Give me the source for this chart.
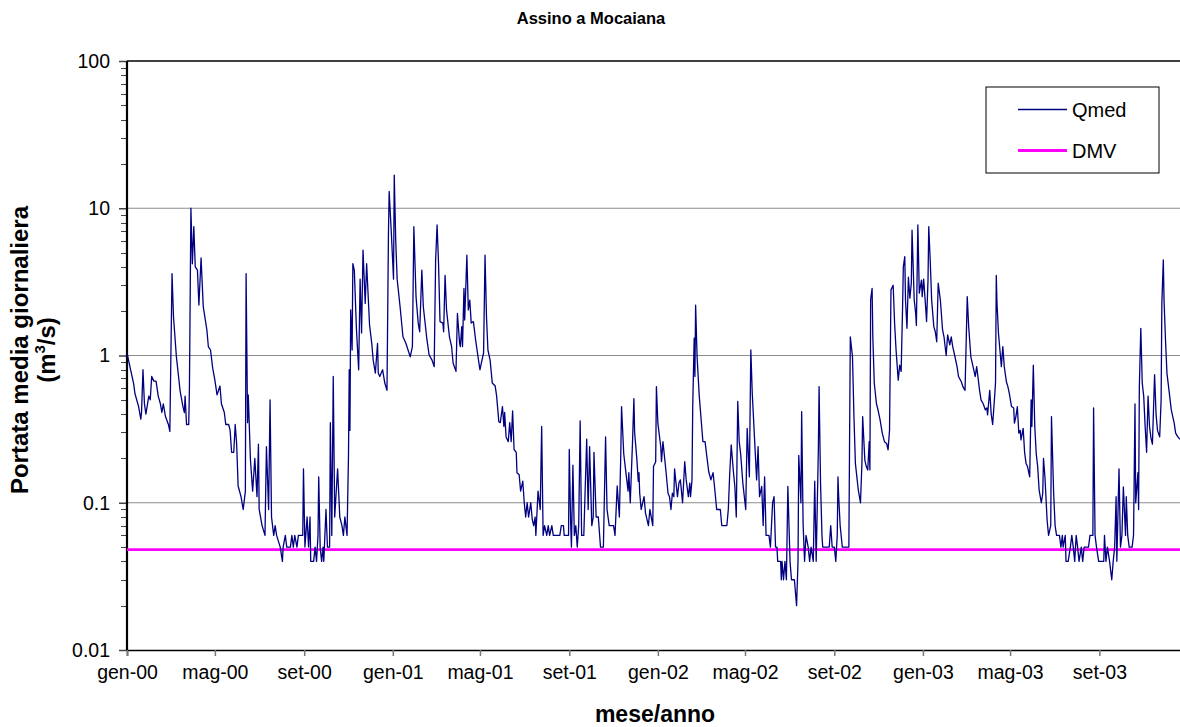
<!DOCTYPE html>
<html>
<head>
<meta charset="utf-8">
<script src="https://cdn.jsdelivr.net/npm/d3@7"></script>
<style>
  body { margin: 0; background: #fff; }
  text { font-family: Arial, "Liberation Sans", sans-serif; fill: #000; }
</style>
</head>
<body>
<div id="chart"></div>
<script>
// Daily mean discharge (m3/s): day offset from 1 Jan 2000 + value
const qDay = [
  0, 4, 9, 11, 16, 19, 20, 22, 24, 26, 30, 32, 34, 37, 40, 43, 46, 48, 50, 53,
  57, 59, 62, 64, 68, 71, 73, 77, 79, 80, 82, 85, 86, 88, 90, 92, 94, 97, 99, 102,
  105, 110, 112, 115, 118, 121, 124, 128, 130, 134, 136, 140, 142, 144, 147, 149, 151, 153, 157, 160,
  163, 164, 166, 167, 170, 173, 176, 179, 181, 182, 186, 190, 192, 195, 197, 199, 202, 204, 206, 211,
  214, 215, 218, 220, 225, 227, 229, 231, 234, 236, 242, 243, 245, 248, 250, 252, 253, 257, 259, 261,
  263, 264, 266, 268, 270, 271, 274, 276, 279, 280, 282, 284, 286, 290, 293, 296, 298, 300, 303, 305,
  306, 307, 308, 310, 311, 313, 316, 319, 321, 323, 325, 328, 330, 334, 337, 339, 342, 345, 346,
  348, 352, 355, 358, 360, 361, 364, 367, 368, 370, 372, 376, 380, 384, 387, 390, 393, 395, 398, 401,
  403, 406, 408, 413, 416, 420, 423, 425, 427, 429, 431, 435, 436, 438, 440, 444, 447, 449, 453, 455,
  458, 459, 461, 462, 464, 465, 468, 470, 472, 474, 477, 480, 484, 486, 488, 491, 493, 495, 497, 500,
  503, 507, 509, 512, 514, 517, 519, 520, 522, 525, 527, 529, 531, 533, 536, 537, 540, 542, 545, 547,
  549, 551, 553, 556, 558, 560, 562, 563, 566, 569, 571, 573, 575, 578, 580, 582, 585, 587, 596, 598,
  601, 602, 608, 609, 611, 612, 614, 616, 618, 620, 622, 624, 626, 629, 633, 635, 637, 640, 642, 643,
  646, 649, 652, 656, 659, 661, 664, 670, 672, 675, 678, 680, 681, 684, 687, 690, 691, 693, 696, 698,
  699, 702, 704, 705,
  706, 708, 712, 714, 718, 720, 724, 725, 728, 729, 731, 735, 736, 738, 742, 745, 747, 749, 751, 753,
  754, 756, 758, 760, 762, 765, 768, 770, 773, 775, 776, 778, 779, 781, 782, 783, 785, 788, 791, 793,
  796, 798, 801, 804, 807, 809, 812, 817, 819, 826, 828, 830, 832, 835, 837, 839, 841, 843, 845, 846,
  848, 852, 854, 857, 859, 861, 864, 867, 869, 871, 874, 876, 878, 880, 884, 886, 889, 891, 893, 895,
  896, 900, 901, 902, 904, 906, 908, 910, 913, 915, 919, 922, 924, 925, 928, 929, 931, 933, 935, 938,
  940, 942, 945, 947, 949, 952, 953, 955, 957, 958, 967, 969, 971, 974, 976, 978, 979, 980, 982, 985,
  994, 995, 996, 999, 1001, 1003, 1007, 1010, 1012, 1013, 1016, 1018, 1020, 1022, 1023, 1024, 1026, 1027, 1029, 1032,
  1034, 1037, 1040, 1043, 1046, 1048, 1050, 1052, 1055, 1057, 1059, 1062,
  1064, 1066, 1068, 1069, 1071, 1072, 1074, 1076, 1078, 1080, 1081, 1084, 1086, 1087, 1089, 1091, 1094, 1095, 1097, 1100,
  1101, 1103, 1104, 1106, 1108, 1111, 1113, 1115, 1117, 1120, 1123, 1125, 1128, 1130, 1133, 1135, 1137, 1139, 1143, 1145,
  1149, 1151, 1154, 1157, 1159, 1162, 1166, 1168, 1170, 1172, 1174, 1176, 1179, 1182, 1184, 1185, 1188, 1190, 1192, 1195,
  1196, 1197, 1198, 1200, 1202, 1204, 1206, 1208, 1211, 1213, 1215, 1218, 1221, 1222, 1224, 1226, 1228, 1230, 1231, 1234,
  1236, 1238, 1240, 1243, 1245, 1246, 1248, 1250, 1252, 1254, 1256, 1259, 1261, 1262, 1264, 1267, 1269, 1272, 1273, 1276,
  1278, 1280, 1284, 1286, 1288, 1289, 1292, 1293, 1296, 1299, 1301, 1303, 1305, 1307, 1309, 1311, 1314, 1316, 1318, 1324,
  1326, 1330, 1331, 1333, 1335, 1338, 1345, 1346, 1348, 1350, 1353, 1356, 1358, 1360, 1362, 1363, 1366, 1368, 1370, 1372,
  1375, 1376, 1378, 1380, 1384, 1386, 1388, 1389, 1392, 1393, 1394, 1396, 1398, 1400, 1402, 1404, 1406, 1408, 1410, 1412,
  1415, 1417, 1419, 1422, 1424, 1425, 1427, 1428, 1430, 1432, 1435, 1438, 1440, 1442, 1444, 1447, 1450
];
const qVal = [
  1.04, 0.84, 0.65, 0.55, 0.45, 0.37, 0.41, 0.80, 0.47, 0.40, 0.53, 0.50, 0.72, 0.67, 0.67, 0.53, 0.47, 0.41, 0.47, 0.385,
  0.34, 0.305, 3.6, 1.84, 0.98, 0.72, 0.58, 0.45, 0.41, 0.53, 0.34, 0.34, 0.62, 10, 4.2, 7.5, 4.0, 3.8, 2.2, 4.6,
  2.15, 1.49, 1.15, 1.09, 0.82, 0.68, 0.54, 0.62, 0.47, 0.41, 0.34, 0.34, 0.31, 0.22, 0.22, 0.34, 0.25, 0.13, 0.11, 0.09,
  0.12, 3.6, 0.35, 0.54, 0.195, 0.12, 0.20, 0.11, 0.25, 0.09, 0.07, 0.06, 0.24, 0.09, 0.50, 0.08, 0.06, 0.07, 0.06, 0.05,
  0.04, 0.05, 0.06, 0.05, 0.05, 0.06, 0.05, 0.06, 0.05, 0.06, 0.06, 0.17, 0.05, 0.08, 0.05, 0.08, 0.04, 0.04, 0.05, 0.04,
  0.06, 0.15, 0.05, 0.04, 0.05, 0.04, 0.09, 0.05, 0.05, 0.35, 0.06, 0.72, 0.08, 0.17, 0.08, 0.07, 0.06, 0.08, 0.06, 0.21,
  0.80, 0.31, 2.04, 1.09, 4.2, 3.8, 1.49, 0.80, 3.3, 1.42, 5.2, 2.26, 4.2, 1.61, 1.21, 0.93, 0.76, 1.21, 0.76,
  0.72, 0.80, 0.65, 0.58, 6.6, 13, 6.8, 3.3, 16.8, 6.1, 3.3, 2.15, 1.34, 1.21, 1.09, 0.98, 1.15, 7.5, 2.5, 1.66,
  1.45, 3.8, 2.15, 1.28, 1.01, 0.93, 0.84, 4.5, 7.7, 4.2, 1.7, 1.66, 1.45, 3.5, 2.04, 1.34, 1.15, 0.89, 0.78, 1.93,
  1.21, 1.15, 1.57, 1.15, 2.86, 1.74, 4.8, 2.04, 2.38, 1.66, 1.7, 1.28, 0.93, 0.80, 0.89, 1.04, 4.8, 1.84, 1.09, 0.93,
  0.65, 0.62, 0.53, 0.355, 0.35, 0.45, 0.33, 0.41, 0.28, 0.26, 0.35, 0.26, 0.42, 0.23, 0.22, 0.16, 0.155, 0.12, 0.14, 0.1,
  0.08, 0.1, 0.08, 0.1, 0.077, 0.07, 0.08, 0.06, 0.12, 0.09, 0.33, 0.06, 0.07, 0.06, 0.07, 0.06, 0.07, 0.06, 0.06, 0.07,
  0.07, 0.06, 0.06, 0.23, 0.07, 0.05, 0.18, 0.06, 0.07, 0.05, 0.07, 0.36, 0.06, 0.06, 0.27, 0.09, 0.24, 0.07, 0.08, 0.22,
  0.08, 0.08, 0.05, 0.05, 0.28, 0.09, 0.07, 0.07, 0.06, 0.13, 0.08, 0.22, 0.45, 0.215, 0.16, 0.12, 0.16, 0.1, 0.25, 0.51,
  0.3, 0.2, 0.14, 0.16,
  0.116, 0.09, 0.11, 0.085, 0.07, 0.09, 0.07, 0.176, 0.19, 0.615, 0.347, 0.24, 0.19, 0.26, 0.167, 0.116, 0.11, 0.09, 0.116, 0.11,
  0.17, 0.136, 0.11, 0.136, 0.143, 0.1, 0.19, 0.143, 0.11, 0.136, 0.11, 0.143, 0.45, 1.31, 0.72, 2.2, 0.98, 0.53, 0.347, 0.26,
  0.26, 0.215, 0.163, 0.143, 0.16, 0.129, 0.09, 0.09, 0.07, 0.07, 0.09, 0.16, 0.247, 0.163, 0.129, 0.08, 0.487, 0.26, 0.215, 0.185,
  0.136, 0.09, 0.32, 0.15, 1.09, 0.55, 0.28, 0.143, 0.24, 0.11, 0.129, 0.07, 0.15, 0.06, 0.06, 0.05, 0.1, 0.11, 0.05, 0.05,
  0.04, 0.04, 0.03, 0.04, 0.03, 0.04, 0.03, 0.129, 0.04, 0.03, 0.03, 0.02, 0.04, 0.21, 0.1, 0.416, 0.072, 0.04, 0.06, 0.05,
  0.04, 0.05, 0.04, 0.14, 0.04, 0.23, 0.615, 0.136, 0.06, 0.05, 0.05, 0.07, 0.05, 0.05, 0.04, 0.06, 0.15, 0.11, 0.07, 0.05,
  0.05, 0.27, 1.34, 0.98, 0.385, 0.185, 0.122, 0.1, 0.185, 0.385, 0.195, 0.176, 0.167, 0.26, 0.167, 2.4, 2.86, 1.34, 0.65, 0.47,
  0.43, 0.365, 0.297, 0.26, 0.253, 0.229, 0.31, 2.79, 3.0, 1.65, 1.09, 0.68,
  0.86, 0.78, 2.15, 4.0, 4.7, 2.38, 1.53, 3.4, 2.45, 3.1, 7.1, 2.38, 1.94, 1.6, 7.7, 2.65, 3.25, 2.51, 3.3, 2.04,
  1.7, 3.25, 7.5, 4.46, 2.38, 1.57, 1.45, 1.24, 3.1, 2.38, 1.5, 1.34, 1.0, 1.38, 1.18, 1.34, 1.15, 1.04, 0.84, 0.72,
  0.66, 0.615, 0.58, 2.51, 1.57, 0.98, 0.8, 0.72, 0.84, 0.7, 0.58, 0.50, 0.47, 0.427, 0.44, 0.395, 0.58, 0.4, 0.34, 0.55,
  0.66, 3.5, 2.26, 1.42, 1.09, 0.84, 1.15, 0.84, 0.66, 0.615, 0.55, 0.45, 0.44, 0.347, 0.385, 0.45, 0.297, 0.31, 0.267, 0.32,
  0.22, 0.185, 0.176, 0.15, 0.50, 0.33, 0.86, 0.33, 0.215, 0.176, 0.122, 0.1, 0.116, 0.2, 0.15, 0.076, 0.06, 0.07, 0.385, 0.116,
  0.07, 0.06, 0.06, 0.05, 0.06, 0.05, 0.06, 0.04, 0.04, 0.05, 0.06, 0.05, 0.04, 0.06, 0.05, 0.04, 0.05, 0.04, 0.05, 0.05,
  0.06, 0.06, 0.44, 0.06, 0.05, 0.04, 0.04, 0.06, 0.04, 0.05, 0.04, 0.03, 0.04, 0.05, 0.11, 0.04, 0.17, 0.05, 0.06, 0.128,
  0.06, 0.11, 0.06, 0.05, 0.05, 0.06, 0.47, 0.1, 0.16, 0.09, 0.615, 1.53, 0.65, 0.53, 0.33, 0.22, 0.53, 0.33, 0.275, 0.25,
  0.74, 0.4, 0.31, 0.28, 0.50, 2.26, 4.46, 2.38, 1.28, 0.76, 0.57, 0.427, 0.385, 0.347, 0.297, 0.28, 0.27
];
// Minimum vital flow (DMV), constant
const dmvValue = 0.048;

const xTickMonths = [
  "2000-01", "2000-05", "2000-09", "2001-01", "2001-05", "2001-09",
  "2002-01", "2002-05", "2002-09", "2003-01", "2003-05", "2003-09",
];
const xTickLabels = [
  "gen-00", "mag-00", "set-00", "gen-01", "mag-01", "set-01",
  "gen-02", "mag-02", "set-02", "gen-03", "mag-03", "set-03",
];
const yTicks = [0.01, 0.1, 1, 10, 100];
const yTickLabels = ["0.01", "0.1", "1", "10", "100"];

const width = 1180;
const height = 727;
const plotLeft = 127;
const plotRight = 1188; // plot runs slightly past the visible window, as in the original
const plotTop = 61;
const plotBottom = 650;

const start = new Date(Date.UTC(2000, 0, 1));
const parseMonth = d3.utcParse("%Y-%m");

const data = qDay.map((d, i) => ({
  date: d3.utcDay.offset(start, d),
  v: qVal[i],
}));

const x = d3
  .scaleUtc()
  .domain([start, new Date(Date.UTC(2004, 0, 1))])
  .range([plotLeft, plotRight]);

const y = d3
  .scaleLog()
  .domain([0.01, 100])
  .range([plotBottom, plotTop]);

const svg = d3
  .select("#chart")
  .append("svg")
  .attr("width", width)
  .attr("height", height);

svg
  .append("defs")
  .append("clipPath")
  .attr("id", "plotClip")
  .append("rect")
  .attr("x", plotLeft)
  .attr("y", plotTop - 2)
  .attr("width", plotRight - plotLeft)
  .attr("height", plotBottom - plotTop + 4);

// Title
svg
  .append("text")
  .attr("x", 591)
  .attr("y", 24)
  .attr("text-anchor", "middle")
  .attr("font-size", "16.5px")
  .attr("font-weight", "bold")
  .text("Assino a Mocaiana");

// Horizontal gridlines at each decade
svg
  .append("g")
  .selectAll("line")
  .data([0.1, 1, 10])
  .enter()
  .append("line")
  .attr("x1", plotLeft)
  .attr("x2", plotRight)
  .attr("y1", (d) => y(d))
  .attr("y2", (d) => y(d))
  .attr("stroke", "#8c8c8c")
  .attr("stroke-width", 1);

// Top border of plot area
svg
  .append("line")
  .attr("x1", plotLeft)
  .attr("x2", plotRight)
  .attr("y1", y(100))
  .attr("y2", y(100))
  .attr("stroke", "#000")
  .attr("stroke-width", 1.5);

// Y axis: major ticks with labels, minor ticks without
const minorTicks = [];
[0.01, 0.1, 1, 10].forEach((base) => {
  for (let k = 2; k <= 9; k++) minorTicks.push(base * k);
});

const yAxis = svg
  .append("g")
  .attr("transform", `translate(${plotLeft},0)`)
  .call(
    d3
      .axisLeft(y)
      .tickValues(yTicks)
      .tickSize(8)
      .tickPadding(9)
      .tickFormat((d, i) => yTickLabels[i])
  );
yAxis.select(".domain").remove();
yAxis.selectAll(".tick line").attr("stroke", "#444").attr("stroke-width", 1.5);
yAxis
  .selectAll(".tick text")
  .attr("font-size", "19.5px")
  .attr("font-family", "Arial, 'Liberation Sans', sans-serif")
  .attr("fill", "#000");

svg
  .append("g")
  .selectAll("line")
  .data(minorTicks)
  .enter()
  .append("line")
  .attr("x1", plotLeft - 6)
  .attr("x2", plotLeft)
  .attr("y1", (d) => Math.round(y(d)) + 0.5)
  .attr("y2", (d) => Math.round(y(d)) + 0.5)
  .attr("stroke", "#444")
  .attr("stroke-width", 1);

// X axis
const xAxis = svg
  .append("g")
  .attr("transform", `translate(0,${plotBottom})`)
  .call(
    d3
      .axisBottom(x)
      .tickValues(xTickMonths.map(parseMonth))
      .tickSize(6)
      .tickPadding(9)
      .tickFormat((d, i) => xTickLabels[i])
  );
xAxis.select(".domain").attr("stroke", "#000").attr("stroke-width", 1.5);
xAxis.selectAll(".tick line").attr("stroke", "#777").attr("stroke-width", 1.5);
xAxis
  .selectAll(".tick text")
  .attr("font-size", "19.5px")
  .attr("font-family", "Arial, 'Liberation Sans', sans-serif")
  .attr("fill", "#000");

// Y axis line (thick, drawn over ticks)
svg
  .append("line")
  .attr("x1", plotLeft)
  .attr("x2", plotLeft)
  .attr("y1", plotTop)
  .attr("y2", plotBottom)
  .attr("stroke", "#000")
  .attr("stroke-width", 2.2);

const plot = svg.append("g").attr("clip-path", "url(#plotClip)");

// DMV constant line
plot
  .append("line")
  .attr("x1", plotLeft)
  .attr("x2", plotRight)
  .attr("y1", y(dmvValue))
  .attr("y2", y(dmvValue))
  .attr("stroke", "#ff00ff")
  .attr("stroke-width", 2.8);

// Qmed series
const line = d3
  .line()
  .x((d) => x(d.date))
  .y((d) => y(d.v));

plot
  .append("path")
  .datum(data)
  .attr("d", line)
  .attr("fill", "none")
  .attr("stroke", "#000080")
  .attr("stroke-width", 1.3)
  .attr("stroke-linejoin", "round");

// Axis titles
svg
  .append("text")
  .attr("x", 655)
  .attr("y", 722)
  .attr("text-anchor", "middle")
  .attr("font-size", "23px")
  .attr("font-weight", "bold")
  .text("mese/anno");

const yTitle = svg
  .append("text")
  .attr("transform", "translate(0,350) rotate(-90)")
  .attr("text-anchor", "middle")
  .attr("font-size", "24px")
  .attr("font-weight", "bold");
yTitle.append("tspan").attr("x", 0).attr("y", 28).text("Portata media giornaliera");
const unit = yTitle.append("tspan").attr("x", 0).attr("y", 55);
unit.append("tspan").text("(m");
unit.append("tspan").attr("font-size", "15px").attr("dy", -10).text("3");
unit.append("tspan").attr("dy", 10).text("/s)");

// Legend
const legend = svg.append("g").attr("transform", "translate(986,87)");
legend
  .append("rect")
  .attr("width", 173)
  .attr("height", 86)
  .attr("fill", "#fff")
  .attr("stroke", "#000")
  .attr("stroke-width", 1);

const legendItems = [
  { name: "Qmed", color: "#000080", w: 1.3 },
  { name: "DMV", color: "#ff00ff", w: 2.8 },
];
legend
  .selectAll("line.item")
  .data(legendItems)
  .enter()
  .append("line")
  .attr("class", "item")
  .attr("x1", 32)
  .attr("x2", 81)
  .attr("y1", (d, i) => 22.5 + i * 41)
  .attr("y2", (d, i) => 22.5 + i * 41)
  .attr("stroke", (d) => d.color)
  .attr("stroke-width", (d) => d.w);
legend
  .selectAll("text.item")
  .data(legendItems)
  .enter()
  .append("text")
  .attr("class", "item")
  .attr("x", 86)
  .attr("y", (d, i) => 29.5 + i * 41)
  .attr("font-size", "20px")
  .text((d) => d.name);
</script>
</body>
</html>
